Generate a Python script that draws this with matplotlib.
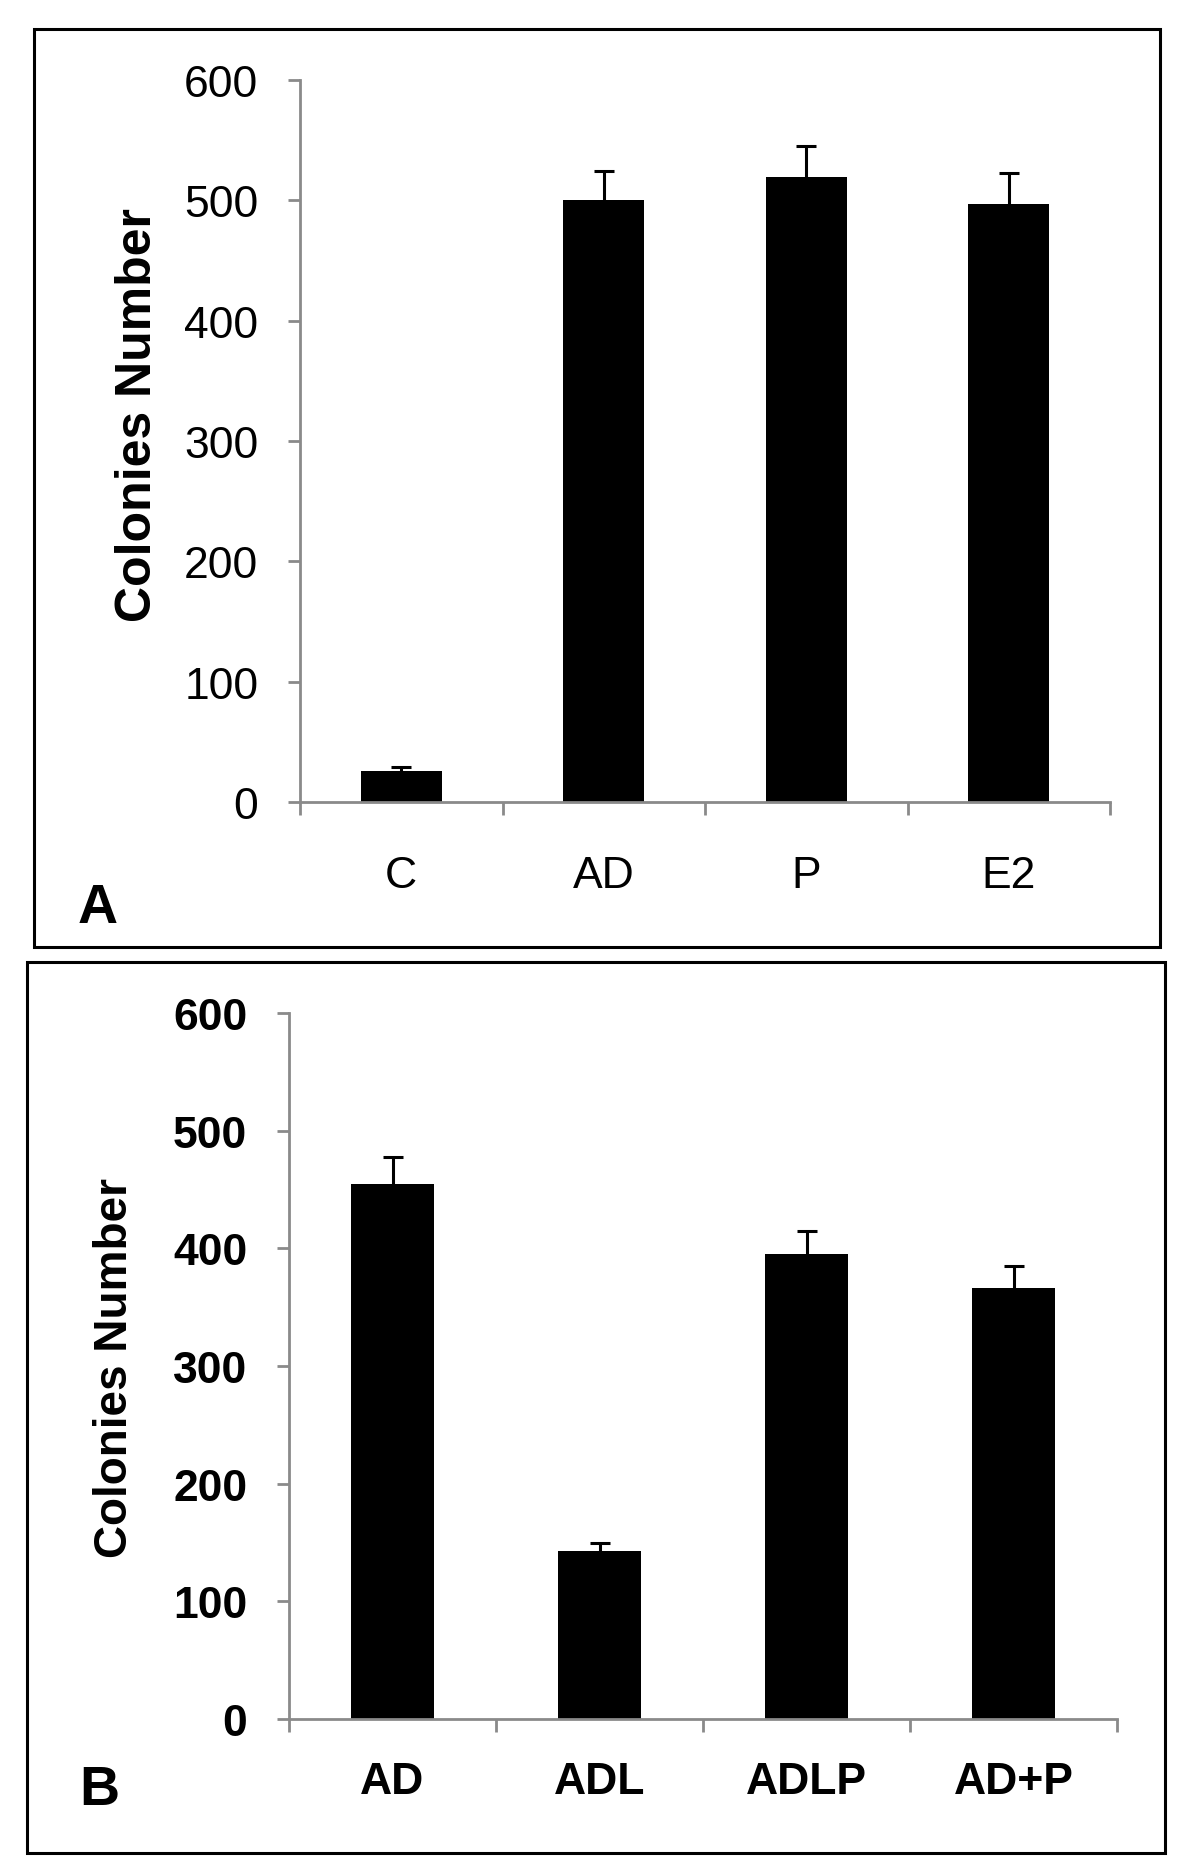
import matplotlib
matplotlib.use("Agg")
import matplotlib.pyplot as plt
from matplotlib.patches import Rectangle
import numpy as np

plt.rcParams['font.family'] = ['Liberation Sans', 'DejaVu Sans']

# Panel A data
cats_a = ["C", "AD", "P", "E2"]
vals_a = [26, 500, 519, 497]
errs_a = [3, 24, 26, 26]

# Panel B data
cats_b = ["AD", "ADL", "ADLP", "AD+P"]
vals_b = [455, 143, 395, 366]
errs_b = [23, 7, 20, 19]

yticks = [0, 100, 200, 300, 400, 500, 600]

AXIS_GRAY = "#8a8a8a"

fig = plt.figure(figsize=(12, 18.74), dpi=100)

# panel frames (figure pixels -> fractions)
W, H = 1200, 1874
for (l, t, r, b) in [(34, 30, 1160, 948), (27, 963, 1165, 1854)]:
    fig.patches.append(Rectangle((l / W, 1 - b / H), (r - l) / W, (b - t) / H,
                                 transform=fig.transFigure, fill=False,
                                 edgecolor="black", linewidth=2.2, zorder=0))


def draw_panel(ax, cats, vals, errs, bold, xpad, ypad):
    x = np.arange(len(cats))
    ax.bar(x, vals, width=0.4, color="black", zorder=2)
    eb = ax.errorbar(x, vals, yerr=[np.zeros(len(errs)), errs], fmt="none",
                     ecolor="black", elinewidth=2.2, capsize=7.5, capthick=2.2, zorder=1)
    # only upper caps, like the original
    eb[1][0].set_visible(False)
    ax.set_xlim(-0.5, len(cats) - 0.5)
    ax.set_ylim(0, 600)
    ax.set_yticks(yticks)
    ax.set_xticks(np.arange(len(cats) + 1) - 0.5)
    ax.set_xticklabels([])
    ax.set_xticks(x, minor=True)
    weight = "bold" if bold else "normal"
    ax.set_xticklabels(cats, minor=True, fontsize=32, fontweight=weight)
    ax.set_yticklabels([str(v) for v in yticks], fontsize=32, fontweight=weight)
    for s in ["top", "right"]:
        ax.spines[s].set_visible(False)
    for s in ["left", "bottom"]:
        ax.spines[s].set_color(AXIS_GRAY)
        ax.spines[s].set_linewidth(2)
    ax.tick_params(axis="both", which="major", direction="out", length=9,
                   width=2, color=AXIS_GRAY)
    ax.tick_params(axis="y", pad=ypad)
    ax.tick_params(axis="x", which="minor", length=0, pad=xpad)


# Panel A
ax_a = fig.add_axes([300 / W, 1 - 803 / H, (1110 - 300) / W, (803 - 81) / H])
draw_panel(ax_a, cats_a, vals_a, errs_a, False, 38, 21)
ax_a.set_ylabel("Colonies Number", fontsize=36, fontweight="bold")
ax_a.yaxis.label.set(va="center", ha="center", rotation_mode="default")
ax_a.yaxis.set_label_coords((138 - 300) / 810, (803 - 415) / 722)
fig.text(98 / W, 1 - 923 / H, "A", fontsize=40, fontweight="bold",
         ha="center", va="baseline")

# Panel B
ax_b = fig.add_axes([289 / W, 1 - 1720 / H, (1117 - 289) / W, (1720 - 1014) / H])
draw_panel(ax_b, cats_b, vals_b, errs_b, True, 30, 21)
ax_b.set_ylabel("Colonies Number", fontsize=33, fontweight="bold")
ax_b.yaxis.label.set(va="center", ha="center", rotation_mode="default")
ax_b.yaxis.set_label_coords((115 - 289) / 828, (1720 - 1368) / 706)
fig.text(99 / W, 1 - 1805 / H, "B", fontsize=40, fontweight="bold",
         ha="center", va="baseline")

fig.savefig("out.png", dpi=100)
